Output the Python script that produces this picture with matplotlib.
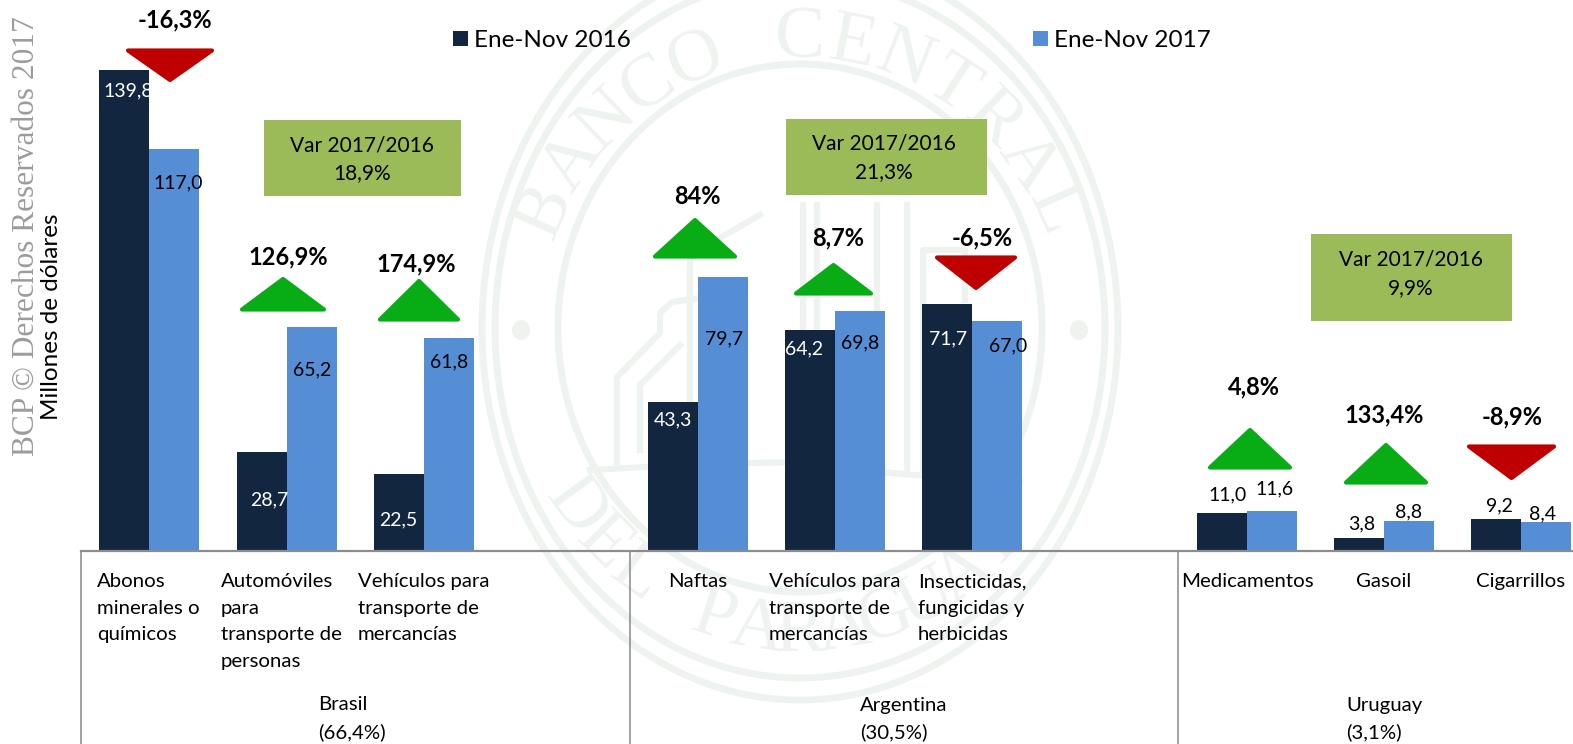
#!/usr/bin/env python3
"""
Exportaciones por destino y producto, Ene-Nov 2016 vs 2017.
"""

import matplotlib
matplotlib.use('Agg')
import matplotlib.pyplot as plt
from matplotlib.patches import Ellipse, Polygon, Rectangle
import numpy as np

plt.rcParams['font.family'] = ['Lato', 'DejaVu Sans']

# Data
positions = [0, 1, 2, 4, 5, 6, 8, 9, 10]
values_2016 = [139.8, 28.7, 22.5, 43.3, 64.2, 71.7, 11.0, 3.8, 9.2]
values_2017 = [117.0, 65.2, 61.8, 79.7, 69.8, 67.0, 11.6, 8.8, 8.4]
series_names = ['Ene-Nov 2016', 'Ene-Nov 2017']
var_labels = ['-16,3%', '126,9%', '174,9%', '84%', '8,7%', '-6,5%', '4,8%', '133,4%', '-8,9%']
group_var = ['18,9%', '21,3%', '9,9%']
group_names = ['Brasil', 'Argentina', 'Uruguay']
group_shares = ['(66,4%)', '(30,5%)', '(3,1%)']
categories = [
    'Abonos\nminerales o\nquímicos',
    'Automóviles\npara\ntransporte de\npersonas',
    'Vehículos para\ntransporte de\nmercancías',
    'Naftas',
    'Vehículos para\ntransporte de\nmercancías',
    'Insecticidas,\nfungicidas y\nherbicidas',
    'Medicamentos',
    'Gasoil',
    'Cigarrillos',
]

W, H = 1573, 744
DARK = '#12263F'
BLUE = '#558ED5'
GREEN = '#08AD16'
RED = '#BE0000'
SEAL = '#EFF3F0'

fig = plt.figure(figsize=(W / 100, H / 100), dpi=100)

# ============================================================
# Watermark seal (background, pixel coordinates)
# ============================================================
bg = fig.add_axes([0, 0, 1, 1], zorder=0)
bg.set_xlim(0, W)
bg.set_ylim(H, 0)
bg.axis('off')

cx, cy = 800, 328
for rx, ry, lw in [(242, 264, 5), (305, 350, 5), (318, 372, 5)]:
    bg.add_patch(Ellipse((cx, cy), 2 * rx, 2 * ry, fill=False, ec=SEAL, lw=lw))
for dx in (-279, 279):
    bg.add_patch(Ellipse((cx + dx, cy + 2), 18, 20, fc=SEAL, ec='none'))


def seal_word(word, start, step, bottom=False):
    for i, ch in enumerate(word):
        ang = start + i * step
        t = np.radians(ang)
        if bottom:
            x, y = cx - 278 * np.sin(t), cy + 305 * np.cos(t)
        else:
            x, y = cx + 278 * np.sin(t), cy - 288 * np.cos(t)
        bg.text(x, y, ch, family='Liberation Serif', fontsize=54, color=SEAL,
                ha='center', va='center', rotation=-ang, rotation_mode='anchor')


seal_word('BANCO CENTRAL', -66, 11)
seal_word('DEL PARAGUAY', 54, -9, bottom=True)

# building outline
outlines = [
    [(617, 462), (617, 377), (660, 333), (660, 313), (672, 302), (700, 298)],
    [(640, 450), (640, 385), (680, 345)],
    [(590, 470), (700, 464), (800, 462), (900, 474), (1020, 482)],
    [(690, 462), (690, 255), (760, 215)],
    [(803, 462), (803, 205)],
    [(817, 462), (817, 205)],
    [(877, 470), (877, 205)],
    [(907, 470), (907, 205)],
    [(923, 470), (923, 250), (965, 250), (965, 300)],
]
for line in outlines:
    xs, ys = zip(*line)
    bg.plot(xs, ys, color=SEAL, lw=4.5, solid_joinstyle='round')

# ============================================================
# Bars
# ============================================================
pitch = 137.15
left_px = 80.9
base_px = 551
px_per_unit = 3.44
ax = fig.add_axes([left_px / W, 1 - base_px / H, 1 - left_px / W, base_px / H], zorder=1)
ax.patch.set_alpha(0)
ax.set_xlim(-0.5, (W - left_px) / pitch - 0.5)
ax.set_ylim(0, base_px / px_per_unit)

x = np.array(positions)
width = 50 / pitch
bars1 = ax.bar(x - width / 2, values_2016, width, color=DARK, label=series_names[0])
bars2 = ax.bar(x + width / 2, values_2017, width, color=BLUE, label=series_names[1])

for side in ('top', 'right', 'left'):
    ax.spines[side].set_visible(False)
ax.spines['bottom'].set_color('#8C8C8C')
ax.spines['bottom'].set_linewidth(1.6)
ax.set_yticks([])
# long ticks are the separators between the country groups
ax.set_xticks([-0.5, 3.5, 7.5])
ax.set_xticklabels([])
ax.tick_params(axis='x', length=(H - base_px) * 0.72, width=1.3, color='#9A9A9A')

leg = fig.legend(handles=[bars1, bars2], loc='upper left', bbox_to_anchor=(453 / W, 1 - 30 / H),
                 ncol=2, frameon=False, fontsize=17.5, handlelength=0.62, handleheight=0.62,
                 handletextpad=0.25, columnspacing=16.55, borderpad=0, borderaxespad=0)

# ============================================================
# Labels and shapes on top (pixel coordinates)
# ============================================================
fg = fig.add_axes([0, 0, 1, 1], zorder=2)
fg.patch.set_alpha(0)
fg.set_xlim(0, W)
fg.set_ylim(H, 0)
fg.axis('off')

fg.text(26, 236, 'BCP © Derechos Reservados 2017', family='Liberation Serif', fontsize=22.6,
        color='#9C9C9C', rotation=90, ha='center', va='center')
fg.text(52, 317, 'Millones de dólares', fontsize=17.5, rotation=90, ha='center', va='center')

# triangles: x0, x1, y_base, y_tip
triangles = [
    (125, 215, 49, 83), (239, 327, 311, 276), (377, 461, 321, 278),
    (652, 738, 258, 217), (793, 874, 295, 262), (934, 1018, 256, 291),
    (1207, 1293, 469, 427), (1343, 1429, 484, 442), (1466, 1557, 445, 481),
]
pct_pos = [(175, 20), (288, 257), (416, 264), (697, 197), (838, 238), (982, 238),
           (1254, 387), (1384, 415), (1512, 417)]
for (x0, x1, yb, yt), lab, (px, py) in zip(triangles, var_labels, pct_pos):
    col = RED if lab.startswith('-') else GREEN
    s = 1.5 if yt > yb else -1.5
    fg.add_patch(Polygon([(x0 + 3, yb + s), (x1 - 3, yb + s), ((x0 + x1) / 2, yt - 2 * s)], closed=True,
                         fc=col, ec=col, lw=3, joinstyle='round'))
    fg.text(px, py, lab, fontsize=17, fontweight='bold', ha='center', va='center')

# value labels
pos_2016 = [(128, 91), (269, 500), (398, 520), (673, 420), (804, 349), (948, 339),
            (1228, 495), (1362, 524), (1499, 506)]
pos_2017 = [(178, 183), (312, 370), (449, 362), (724, 339), (860, 343), (1008, 346),
            (1275, 489), (1409, 512), (1543, 514)]
inside = [True] * 6 + [False] * 3
for i in range(len(positions)):
    fg.text(*pos_2016[i], f'{values_2016[i]:.1f}'.replace('.', ','), fontsize=14, ha='center', va='center',
            color='white' if inside[i] else 'black')
    fg.text(*pos_2017[i], f'{values_2017[i]:.1f}'.replace('.', ','), fontsize=14, ha='center', va='center')

# Var boxes
boxes = [(264, 120, 197, 76), (786, 119, 201, 76), (1311, 234, 201, 87)]
box_text = [(362, 145, 173), (884, 143, 172), (1411, 259, 288)]
for (bx, by, bw, bh), (tx, y1, y2), v in zip(boxes, box_text, group_var):
    fg.add_patch(Rectangle((bx, by), bw, bh, fc='#9BBB59', ec='none'))
    fg.text(tx, y1, 'Var 2017/2016', fontsize=15, ha='center', va='center')
    fg.text(tx, y2, v, fontsize=15, ha='center', va='center')

# category labels: x, ha
cat_pos = [(97, 'left'), (221, 'left'), (358, 'left'), (698, 'center'), (769, 'left'), (918, 'left'),
           (1247, 'center'), (1384, 'center'), (1521, 'center')]
for (cxp, ha), cat in zip(cat_pos, categories):
    fg.text(cxp, 573, cat, fontsize=14.7, ha=ha, va='top', linespacing=1.68, multialignment='left')

for gx, name, share in zip([318, 860, 1346], group_names, group_shares):
    fg.text(gx, 705, name, fontsize=14.7, ha='left', va='center')
    fg.text(gx, 732, share, fontsize=14.7, ha='left', va='center')

plt.savefig('out.png', dpi=100)
